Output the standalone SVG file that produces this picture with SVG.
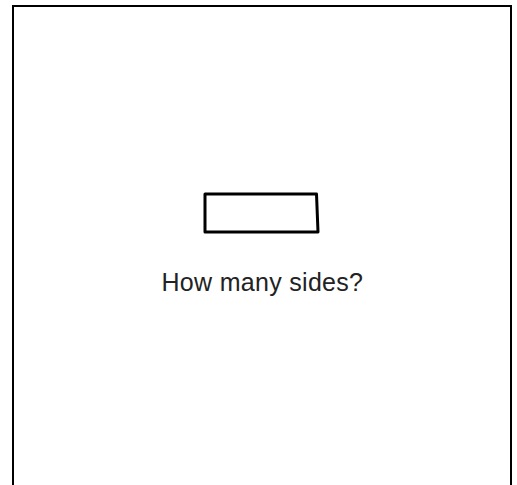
<svg xmlns="http://www.w3.org/2000/svg" width="517" height="485" viewBox="0 0 517 485">
<style>
.frame{fill:none;stroke:#000;stroke-width:2}
.shape{fill:#fff;stroke:#000;stroke-width:3;stroke-linejoin:round}
.lbl{font-family:"Liberation Sans",Arial,sans-serif;font-size:25px;letter-spacing:0.3px;fill:#222}
</style>
<rect width="517" height="485" fill="#fff"/>
<g id="frame"><rect class="frame" x="13" y="6" width="498" height="490"/></g>
<g id="quad"><path class="shape" d="M205,194 L316.5,194 L318,232 L205,232 Z"/></g>
<g id="label"><text class="lbl" x="161.5" y="291">How many sides?</text></g>
<g id="connectors"></g>
</svg>
